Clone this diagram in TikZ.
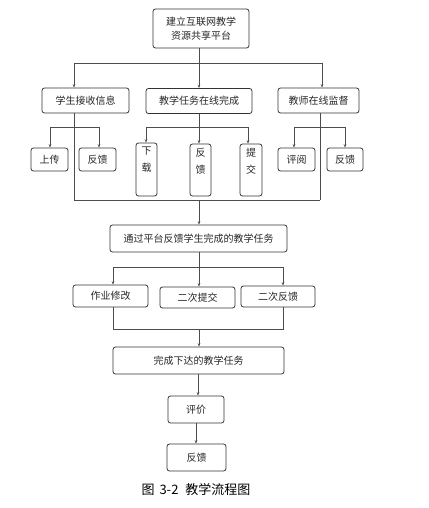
\documentclass[tikz,border=0pt]{standalone}
\usepackage{fontspec}
\newfontfamily\cjk{Noto Sans CJK SC}
\usetikzlibrary{arrows.meta}
\begin{document}
\begin{tikzpicture}[x=1pt,y=-1pt,
  box/.style={draw=black!80, rounded corners=2.5pt, line width=0.8pt, inner sep=0pt,
    font=\cjk\fontsize{10}{14}\selectfont, text=black!85, align=center},
  lbl/.style={inner sep=0pt, font=\cjk\fontsize{10}{17}\selectfont, text=black!85, align=center, text width=10pt},
  ln/.style={draw=black!70, line width=0.6pt},
  arr/.style={ln, -{Stealth[length=3.5pt,width=2.6pt]}},
  captext/.style={inner sep=0pt, font=\cjk\fontsize{13}{15}\selectfont, text=black}]
\useasboundingbox (0,0) rectangle (428,508);
% level 0
\node[box, minimum width=96, minimum height=39] (top) at (201,28.5) {建立互联网教学\\资源共享平台};
% level 1
\node[box, minimum width=87, minimum height=25] (s1) at (85.5,100.5) {学生接收信息};
\node[box, minimum width=106, minimum height=25] (s2) at (199,101) {教学任务在线完成};
\node[box, minimum width=81, minimum height=25] (s3) at (318.5,100.5) {教师在线监督};
% level 2
\node[box, minimum width=37, minimum height=23] (u1) at (49.5,159.5) {上传};
\node[box, minimum width=37, minimum height=23] (u2) at (97.5,159.5) {反馈};
\node[box, minimum width=21, minimum height=53] (m1) at (146.5,169.5) {};
\node[box, minimum width=21, minimum height=52] (m2) at (200.5,170) {};
\node[box, minimum width=22, minimum height=52] (m3) at (251,170) {};
\node[lbl, anchor=north] (m1t) at ([yshift=-4]m1.north) {下\\载};
\node[lbl, anchor=north] (m2t) at ([yshift=-4]m2.north) {反\\馈};
\node[lbl, anchor=north] (m3t) at ([yshift=-4]m3.north) {提\\交};
\node[box, minimum width=37, minimum height=23] (r1) at (296.5,159.5) {评阅};
\node[box, minimum width=36, minimum height=23] (r2) at (345,159.5) {反馈};
% level 3
\node[box, minimum width=177, minimum height=27] (t) at (198.5,238.5) {通过平台反馈学生完成的教学任务};
\node[box, minimum width=75, minimum height=22] (a1) at (110.5,296) {作业修改};
\node[box, minimum width=75, minimum height=21] (a2) at (197.5,297.5) {二次提交};
\node[box, minimum width=74, minimum height=21] (a3) at (278,296.5) {二次反馈};
\node[box, minimum width=171, minimum height=27] (f) at (198.5,360.5) {完成下达的教学任务};
\node[box, minimum width=56, minimum height=27] (e) at (196,409.5) {评价};
\node[box, minimum width=59, minimum height=27] (g) at (196.5,457.5) {反馈};
\node[captext] (capt) at (196,490) {图\hspace{5pt}3-2\hspace{7pt}教学流程图};
% coordinates
\coordinate (h0l) at (74,63);
\coordinate (h0r) at (322,63);
\coordinate (b1) at (74,127);
\coordinate (b2) at (199,127);
\coordinate (b3) at (320,127);
\coordinate (cl) at (74,200);
\coordinate (cm) at (199,200);
\coordinate (cr) at (320,200);
\coordinate (ul) at (50,127);
\coordinate (ur) at (99,127);
\coordinate (ml) at (146,127);
\coordinate (mr) at (248,127);
\coordinate (rl) at (294,127);
\coordinate (rr) at (345,127);
\coordinate (k1) at (113,267);
\coordinate (k2) at (199,267);
\coordinate (k3) at (283,267);
\coordinate (j1) at (113,329);
\coordinate (j2) at (199,329);
\coordinate (j3) at (283,329);
\coordinate (x198) at (198,0);
\coordinate (x196) at (196,0);
% top fan-out
\draw[ln] (h0l) -- (h0r);
\draw[arr] (top.south -| b2) -- (s2.north -| b2);
\draw[arr] (h0l) -- (s1.north -| h0l);
\draw[arr] (h0r) -- (s3.north -| h0r);
% student branch
\draw[ln] (s1.south -| b1) -- (cl);
\draw[ln] (ul) -- (ur);
\draw[arr] (ul) -- (u1.north -| ul);
\draw[arr] (ur) -- (u2.north -| ur);
% task branch
\draw[ln] (s2.south -| b2) -- (b2);
\draw[ln] (ml) -- (mr);
\draw[arr] (ml) -- (m1.north -| ml);
\draw[arr] (b2) -- (m2.north -| b2);
\draw[arr] (mr) -- (m3.north -| mr);
% teacher branch
\draw[ln] (s3.south -| b3) -- (cr);
\draw[ln] (rl) -- (rr);
\draw[arr] (rl) -- (r1.north -| rl);
\draw[arr] (rr) -- (r2.north -| rr);
% collector
\draw[ln] (cl) -- (cr);
\draw[arr] (cm) -- (t.north -| cm);
% second fan-out
\draw[ln] (k1) -- (k3);
\draw[arr] (t.south -| k2) -- (a2.north -| k2);
\draw[arr] (k1) -- (a1.north -| k1);
\draw[arr] (k3) -- (a3.north -| k3);
% second collector
\draw[ln] (a1.south -| j1) -- (j1) -- (j3) -- (a3.south -| j3);
\draw[arr] (j2) -- (f.north -| j2);
\draw[arr] (f.south -| x198) -- (e.north -| x198);
\draw[arr] (e.south -| x196) -- (g.north -| x196);
\end{tikzpicture}
\end{document}
